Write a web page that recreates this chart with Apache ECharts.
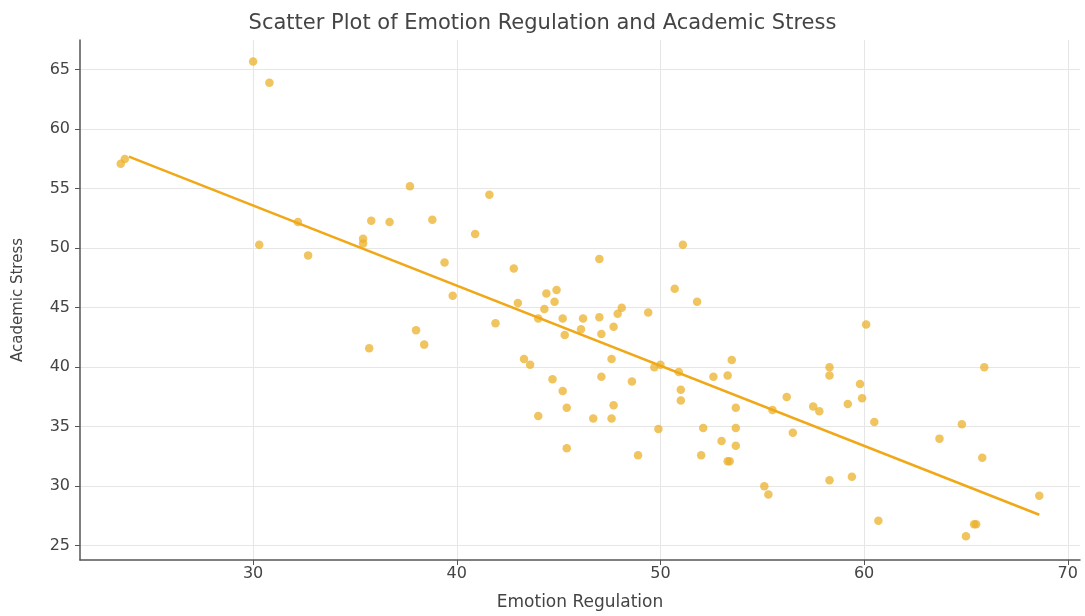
<!DOCTYPE html>
<html>
<head>
<meta charset="utf-8">
<script src="https://cdn.jsdelivr.net/npm/echarts@6/dist/echarts.min.js"></script>
<style>html,body{margin:0;padding:0;background:#fff}#c{width:1085px;height:616px}</style>
</head>
<body>
<div id="c"></div>
<script>
const titleText = 'Scatter Plot of Emotion Regulation and Academic Stress';
const xName = 'Emotion Regulation';
const yName = 'Academic Stress';

const emotion = [
  30.0, 30.8, 23.7, 23.5, 30.3, 32.2, 32.7, 35.4, 35.4, 35.8,
  36.7, 35.7, 37.7, 38.0, 38.4, 38.8, 39.4, 39.8, 40.9, 41.6,
  41.9, 42.8, 43.0, 44.4, 44.9, 44.8, 44.3, 44.0, 45.2, 46.2,
  47.0, 48.1, 47.9, 49.4, 46.1, 45.3, 47.1, 47.7, 43.3, 43.6,
  47.6, 44.7, 45.2, 47.1, 48.6, 45.4, 47.7, 44.0, 46.7, 47.6,
  45.4, 48.9, 49.9, 49.7, 50.0, 50.9, 51.0, 51.0, 50.7, 51.8,
  47.0, 51.1, 52.6, 53.3, 53.5, 52.1, 52.0, 53.0, 53.7, 53.3,
  53.4, 53.7, 53.7, 55.5, 56.2, 56.5, 55.1, 55.3, 57.5, 57.8,
  58.3, 58.3, 58.3, 59.4, 59.2, 59.8, 59.9, 60.1, 60.5, 60.7,
  63.7, 64.8, 65.0, 65.5, 65.4, 65.8, 65.9, 68.6
];
const stress = [
  65.7, 63.9, 57.5, 57.1, 50.3, 52.2, 49.4, 50.8, 50.4, 52.3,
  52.2, 41.6, 55.2, 43.1, 41.9, 52.4, 48.8, 46.0, 51.2, 54.5,
  43.7, 48.3, 45.4, 46.2, 46.5, 45.5, 44.9, 44.1, 44.1, 44.1,
  44.2, 45.0, 44.5, 44.6, 43.2, 42.7, 42.8, 43.4, 40.7, 40.2,
  40.7, 39.0, 38.0, 39.2, 38.8, 36.6, 36.8, 35.9, 35.7, 35.7,
  33.2, 32.6, 34.8, 40.0, 40.2, 39.6, 38.1, 37.2, 46.6, 45.5,
  49.1, 50.3, 39.2, 39.3, 40.6, 34.9, 32.6, 33.8, 33.4, 32.1,
  32.1, 36.6, 34.9, 36.4, 37.5, 34.5, 30.0, 29.3, 36.7, 36.3,
  40.0, 39.3, 30.5, 30.8, 36.9, 38.6, 37.4, 43.6, 35.4, 27.1,
  34.0, 35.2, 25.8, 26.8, 26.8, 32.4, 40.0, 29.2
];
// fitted trend line end points
const trendX = [23.9, 68.6];
const trendY = [57.7, 27.6];

const points = emotion.map((x, i) => [x, stress[i]]);
const trend = trendX.map((x, i) => [x, trendY[i]]);

const chart = echarts.init(document.getElementById('c'), null, {renderer: 'canvas'});
const font = 'DejaVu Sans';
chart.setOption({
  animation: false,
  backgroundColor: '#ffffff',
  title: {
    text: titleText, left: 'center', top: 8,
    textStyle: {fontFamily: font, fontSize: 21, fontWeight: 'normal', color: '#444'}
  },
  grid: {left: 80, right: 5, top: 40, bottom: 48},
  xAxis: {
    type: 'value', min: 21.5, max: 70.6, splitNumber: 5, minInterval: 10, maxInterval: 10,
    name: xName, nameLocation: 'middle', nameGap: 34,
    nameTextStyle: {fontFamily: font, fontSize: 17, color: '#444'},
    axisLine: {show: true, onZero: false, lineStyle: {color: '#555', width: 1.5}},
    axisTick: {show: true, inside: false, length: 5, lineStyle: {color: '#555'}},
    axisLabel: {fontFamily: font, fontSize: 16, color: '#444', margin: 6, showMinLabel: false, showMaxLabel: false},
    splitLine: {show: true, showMinLine: false, showMaxLine: false, lineStyle: {color: '#e6e6e6', width: 1}}
  },
  yAxis: {
    type: 'value', min: 23.8, max: 67.5, splitNumber: 9, minInterval: 5, maxInterval: 5,
    name: yName, nameLocation: 'middle', nameGap: 54, nameRotate: 90,
    nameTextStyle: {fontFamily: font, fontSize: 15, color: '#444'},
    axisLine: {show: true, onZero: false, lineStyle: {color: '#555', width: 1.5}},
    axisTick: {show: true, inside: false, length: 5, lineStyle: {color: '#555'}},
    axisLabel: {fontFamily: font, fontSize: 16, color: '#444', margin: 10, showMinLabel: false, showMaxLabel: false},
    splitLine: {show: true, showMinLine: false, showMaxLine: false, lineStyle: {color: '#e6e6e6', width: 1}}
  },
  series: [
    {
      type: 'scatter', data: points, symbolSize: 8.5,
      itemStyle: {color: '#ebb02a', opacity: 0.75}
    },
    {
      type: 'line', data: trend, showSymbol: false, symbol: 'none',
      lineStyle: {color: '#f0a818', width: 2.5}, z: 3
    }
  ]
});
</script>
</body>
</html>
